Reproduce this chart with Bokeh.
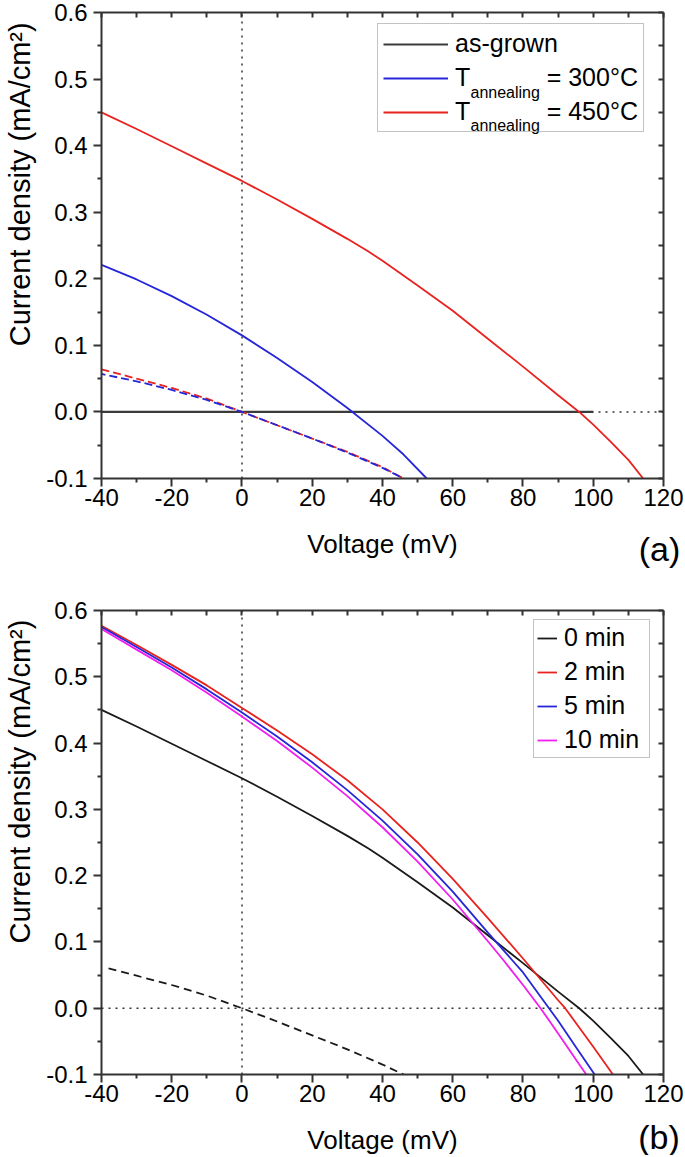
import numpy as np
from bokeh.plotting import figure
from bokeh.models import (FixedTicker, LinearAxis, Range1d, Legend, LegendItem, Label,
                          PrintfTickFormatter)
from bokeh.layouts import column
from bokeh.embed import file_html
from bokeh.resources import INLINE

FONT = "Liberation Sans"
NB = "\u00a0"

# ---------------- data ----------------
X_MIN, X_MAX = -40, 120
Y_MIN, Y_MAX = -0.1, 0.6
x_major = [-40, -20, 0, 20, 40, 60, 80, 100, 120]
x_minor = [-30, -10, 10, 30, 50, 70, 90, 110]
y_major = [-0.1, 0.0, 0.1, 0.2, 0.3, 0.4, 0.5, 0.6]
y_minor = [-0.05, 0.05, 0.15, 0.25, 0.35, 0.45, 0.55]
x_top = [-40, -30, -20, -10, 0, 10, 20, 30, 40, 50, 60, 70, 80, 90, 100, 110, 120]
y_right = [-0.1, -0.05, 0.0, 0.05, 0.1, 0.15, 0.2, 0.25, 0.3, 0.35, 0.4, 0.45, 0.5, 0.55, 0.6]

# reference lines (V = 0 and J = 0)
vref_v = [0, 0]
vref_j = [Y_MIN, Y_MAX]
href_v = [X_MIN, X_MAX]
href_j = [0.0, 0.0]

# panel (a)
asgrown_v = [-40, 100]
asgrown_j = [0.0, 0.0]

t300_v = [-40, -30, -20, -10, 0, 10, 20, 30, 40, 46, 52.6]
t300_j = [0.221, 0.199, 0.174, 0.146, 0.115, 0.081, 0.045, 0.006, -0.036, -0.064, -0.1]

t450_v = [-40, -30, -20, -10, 0, 10, 20, 30, 36, 40, 50, 60, 70, 80, 90, 96, 100, 105, 110, 114.2]
t450_j = [0.45, 0.425, 0.399, 0.373, 0.347, 0.319, 0.29, 0.26, 0.241, 0.227, 0.19, 0.152,
          0.11, 0.068, 0.025, 0.0, -0.019, -0.045, -0.072, -0.1]

dark300_v = [-40, -30, -20, -10, 0, 10, 20, 30, 40, 46]
dark300_j = [0.057, 0.046, 0.033, 0.018, 0.0, -0.02, -0.04, -0.061, -0.084, -0.1]
dark450_v = [-40, -30, -20, -10, 0, 10, 20, 30, 40, 46]
dark450_j = [0.064, 0.05, 0.036, 0.02, 0.0, -0.02, -0.04, -0.06, -0.083, -0.1]

# panel (b)
m0_v = [-40, -30, -20, -10, 0, 10, 20, 30, 36, 40, 50, 60, 70, 80, 90, 96, 100, 105, 110, 114.2]
m0_j = [0.45, 0.425, 0.399, 0.373, 0.347, 0.319, 0.29, 0.26, 0.241, 0.227, 0.19, 0.152,
        0.11, 0.068, 0.025, 0.0, -0.019, -0.045, -0.072, -0.1]

m2_v = [-40, -30, -20, -10, 0, 10, 20, 30, 40, 50, 60, 70, 80, 90, 92, 96, 100, 105.6]
m2_j = [0.577, 0.548, 0.518, 0.487, 0.453, 0.419, 0.383, 0.344, 0.3, 0.25, 0.195, 0.136,
        0.075, 0.012, 0.0, -0.029, -0.058, -0.1]

m5_v = [-40, -30, -20, -10, 0, 10, 20, 30, 40, 50, 60, 70, 77, 80, 87.4, 90, 95, 100.4]
m5_j = [0.575, 0.545, 0.514, 0.481, 0.446, 0.41, 0.371, 0.329, 0.283, 0.232, 0.176, 0.114,
        0.072, 0.054, 0.0, -0.019, -0.058, -0.1]

m10_v = [-40, -30, -20, -10, 0, 10, 20, 30, 40, 50, 60, 70, 74.5, 80, 85, 90, 95, 98]
m10_j = [0.572, 0.541, 0.51, 0.476, 0.44, 0.403, 0.363, 0.32, 0.273, 0.221, 0.164, 0.101,
         0.072, 0.035, 0.0, -0.038, -0.077, -0.1]

dark_b_v = [-38, -30, -20, -10, 0, 10, 20, 30, 40, 46]
dark_b_j = [0.06, 0.049, 0.035, 0.019, 0.0, -0.02, -0.041, -0.062, -0.085, -0.1]

# ---------------- layout (canvas extents in data units) ----------------
W = 684
H_A, H_B = 575, 580
XC = (-68.754, 125.979)
YC_A = (-0.24571, 0.61803)
YC_B = (-0.22220, 0.65280)

BLACK = "#1a1a1a"
RED = "#e8231f"
BLUE = "#2626d9"
MAGENTA = "#f01ef0"
AXIS = "#333333"
LW = 1.8


def style_axis(ax):
    ax.axis_line_color = AXIS
    ax.axis_line_width = 2
    ax.major_tick_line_color = AXIS
    ax.minor_tick_line_color = AXIS
    ax.major_tick_line_width = 2
    ax.minor_tick_line_width = 2


def make_fig(height, yc):
    p = figure(width=W, height=height, x_range=Range1d(*XC), y_range=Range1d(*yc),
               output_backend="svg", toolbar_location=None,
               x_axis_location=None, y_axis_location=None, min_border=0)
    p.xgrid.visible = False
    p.ygrid.visible = False
    p.outline_line_color = None
    p.background_fill_color = "white"
    p.border_fill_color = "white"

    bottom = LinearAxis(fixed_location=Y_MIN, bounds=(X_MIN, X_MAX),
                        ticker=FixedTicker(ticks=x_major, minor_ticks=x_minor),
                        formatter=PrintfTickFormatter(format="%d"))
    left = LinearAxis(fixed_location=X_MIN, bounds=(Y_MIN, Y_MAX),
                      ticker=FixedTicker(ticks=y_major, minor_ticks=y_minor),
                      formatter=PrintfTickFormatter(format="%.1f"))
    for ax in (bottom, left):
        style_axis(ax)
        ax.major_tick_out = 8
        ax.major_tick_in = 0
        ax.minor_tick_out = 4
        ax.minor_tick_in = 0
        ax.major_label_text_font = FONT
        ax.major_label_text_font_size = "24px"
        ax.major_label_text_color = "black"
    bottom.major_label_standoff = 3
    left.major_label_standoff = 6
    bottom.axis_label = "Voltage (mV)"
    bottom.axis_label_text_font = FONT
    bottom.axis_label_text_font_size = "26px"
    bottom.axis_label_text_font_style = "normal"
    bottom.axis_label_text_color = "black"
    bottom.axis_label_standoff = 19

    top = LinearAxis(fixed_location=Y_MAX, bounds=(X_MIN, X_MAX),
                     ticker=FixedTicker(ticks=x_top, minor_ticks=[]))
    right = LinearAxis(fixed_location=X_MAX, bounds=(Y_MIN, Y_MAX),
                       ticker=FixedTicker(ticks=y_right, minor_ticks=[]))
    for ax in (top, right):
        style_axis(ax)
        ax.major_tick_in = 5
        ax.major_tick_out = 0
        ax.minor_tick_in = 0
        ax.minor_tick_out = 0
        ax.major_label_text_color = None
        ax.major_label_text_font_size = "1px"
        ax.major_label_standoff = 0

    p.add_layout(bottom, "below")
    p.add_layout(left, "left")
    p.add_layout(top, "above")
    p.add_layout(right, "right")

    p.line(vref_v, vref_j, line_color=AXIS, line_width=1.5, line_dash="2 5")
    p.line(href_v, href_j, line_color=AXIS, line_width=1.5, line_dash="2 5")

    p.add_layout(Label(x=-63.2, y=0.342, text="Current density (mA/cm\u00b2)",
                       angle=np.pi / 2, text_align="center", text_baseline="middle",
                       text_font=FONT, text_font_size="29px", text_color="black"))
    return p


# ---------------- panel (a) ----------------
pa = make_fig(H_A, YC_A)
r_as = pa.line(asgrown_v, asgrown_j, line_color="#3a3a3a", line_width=2.2)
pa.line(dark450_v, dark450_j, line_color=RED, line_width=LW, line_dash="8 4")
pa.line(dark300_v, dark300_j, line_color=BLUE, line_width=LW, line_dash="8 4", line_dash_offset=4)
r300 = pa.line(t300_v, t300_j, line_color=BLUE, line_width=LW)
r450 = pa.line(t450_v, t450_j, line_color=RED, line_width=LW)

leg_a = Legend(items=[
    LegendItem(label="as-grown", renderers=[r_as]),
    LegendItem(label="T" + NB * 11 + "= 300\u00b0C", renderers=[r300]),
    LegendItem(label="T" + NB * 11 + "= 450\u00b0C", renderers=[r450]),
], location=(377, 443), padding=5, spacing=5,
    glyph_width=65, glyph_height=28, label_height=28, label_standoff=7,
    label_text_font=FONT, label_text_font_size="25px", label_text_color="black",
    border_line_color="#888888", border_line_width=1.5, background_fill_alpha=0.0)
pa.add_layout(leg_a)
for yy in (0.4798, 0.4303):
    pa.add_layout(Label(x=65.05, y=yy, text="annealing", text_align="left",
                        text_baseline="middle", text_font=FONT, text_font_size="16px",
                        text_color="black"))
pa.add_layout(Label(x=118.86, y=-0.2052, text="(a)", text_align="center",
                    text_baseline="middle", text_font=FONT, text_font_size="34px",
                    text_color="black"))

# ---------------- panel (b) ----------------
pb = make_fig(H_B, YC_B)
pb.line(dark_b_v, dark_b_j, line_color=BLACK, line_width=LW, line_dash="8 5")
r0 = pb.line(m0_v, m0_j, line_color=BLACK, line_width=LW)
r2 = pb.line(m2_v, m2_j, line_color=RED, line_width=LW)
r5 = pb.line(m5_v, m5_j, line_color=BLUE, line_width=LW)
r10 = pb.line(m10_v, m10_j, line_color=MAGENTA, line_width=LW)

leg_b = Legend(items=[
    LegendItem(label="0 min", renderers=[r0]),
    LegendItem(label="2 min", renderers=[r2]),
    LegendItem(label="5 min", renderers=[r5]),
    LegendItem(label="10 min" + NB, renderers=[r10]),
], location=(533, 397), padding=3, spacing=5,
    glyph_width=20, glyph_height=28, label_height=28, label_standoff=7,
    label_text_font=FONT, label_text_font_size="25px", label_text_color="black",
    border_line_color="#888888", border_line_width=1.5, background_fill_alpha=1.0)
pb.add_layout(leg_b)
pb.add_layout(Label(x=118.7, y=-0.195, text="(b)", text_align="center",
                    text_baseline="middle", text_font=FONT, text_font_size="34px",
                    text_color="black"))

layout = column(pa, pb, spacing=0)
open("out.html", "w").write(file_html(layout, INLINE))
